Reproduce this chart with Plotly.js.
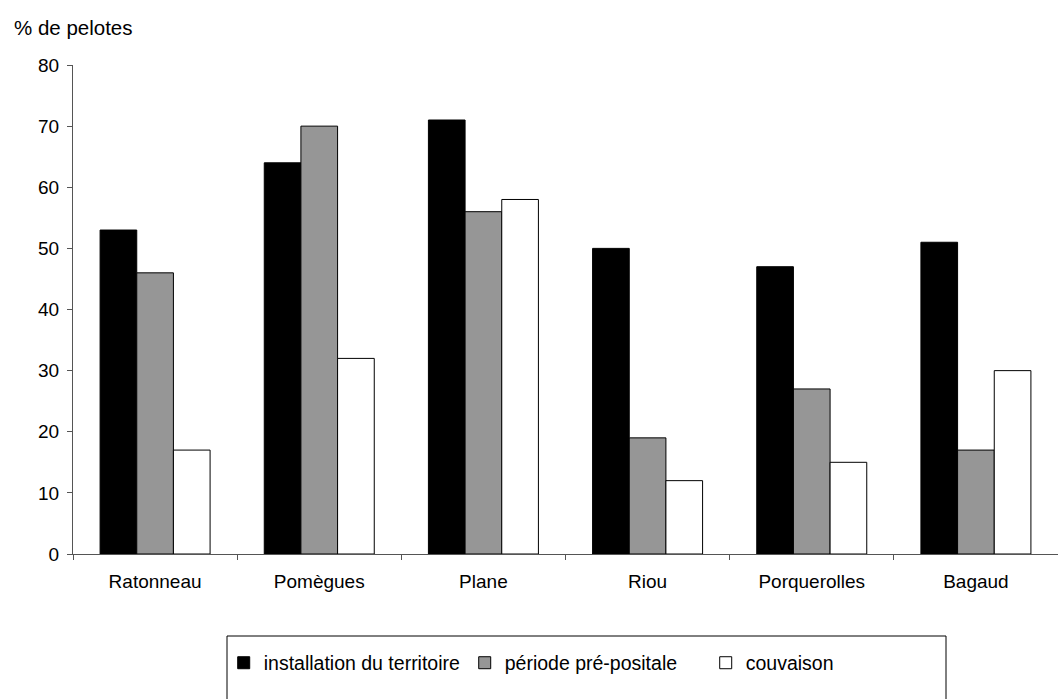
<!DOCTYPE html>
<html>
<head>
<meta charset="utf-8">
<script src="https://cdn.plot.ly/plotly-3.0.1.min.js"></script>
<style>html,body{margin:0;padding:0;background:#fff;}#chart{width:1058px;height:699px;}</style>
</head>
<body>
<div id="chart"></div>
<script>
const categories = ["Ratonneau", "Pomègues", "Plane", "Riou", "Porquerolles", "Bagaud"];
const seriesNames = ["installation du territoire", "période pré-positale", "couvaison"];
const installation = [53, 64, 71, 50, 47, 51];
const prePositale = [46, 70, 56, 19, 27, 17];
const couvaison = [17, 32, 58, 12, 15, 30];
const yTitle = "% de pelotes";
const yTickValues = [0, 10, 20, 30, 40, 50, 60, 70, 80];

const fills = ["#000000", "#969696", "#ffffff"];
const values = [installation, prePositale, couvaison];

const traces = values.map((v, i) => ({
  type: "bar",
  name: seriesNames[i],
  x: categories,
  y: v,
  marker: {color: fills[i], line: {color: "#000000", width: 1}},
  hoverinfo: "x+y+name"
}));

const layout = {
  width: 1058,
  height: 699,
  paper_bgcolor: "#ffffff",
  plot_bgcolor: "#ffffff",
  font: {family: "Liberation Sans, Arial, sans-serif", color: "#000000", size: 18},
  margin: {l: 73, r: 0, t: 65, b: 145, autoexpand: false},
  barmode: "group",
  bargap: 0.33,
  bargroupgap: 0,
  showlegend: true,
  legend: {
    orientation: "h",
    x: 0.153, xanchor: "left",
    y: -0.223, yanchor: "middle",
    font: {size: 19.5},
    entrywidth: 196,
    entrywidthmode: "pixels",
    bgcolor: "rgba(0,0,0,0)",
    borderwidth: 0,
    traceorder: "normal"
  },
  xaxis: {
    type: "category",
    tickson: "boundaries",
    ticks: "outside",
    ticklen: 5,
    tickcolor: "#555555",
    showline: true,
    linecolor: "#555555",
    linewidth: 1,
    showgrid: false,
    zeroline: false,
    ticklabelstandoff: 10,
    tickfont: {size: 19}
  },
  yaxis: {
    range: [0, 80],
    tickvals: yTickValues,
    ticks: "outside",
    ticklen: 5,
    tickcolor: "#555555",
    showline: true,
    linecolor: "#555555",
    linewidth: 1,
    showgrid: false,
    zeroline: false,
    tickfont: {size: 19},
    ticklabelstandoff: 4
  },
  shapes: [{
    type: "rect", xref: "paper", yref: "paper",
    x0: (227 - 73) / 985, x1: (946 - 73) / 985,
    y0: -0.4, y1: (554 - 636) / 489,
    line: {color: "#000000", width: 1},
    fillcolor: "rgba(0,0,0,0)"
  }],
  annotations: [{
    text: yTitle, xref: "paper", yref: "paper",
    x: (12 - 73) / 985, xanchor: "left",
    y: (554 - 27) / 489, yanchor: "middle",
    showarrow: false, font: {size: 20.5}
  }]
};

Plotly.newPlot("chart", traces, layout, {displayModeBar: false, staticPlot: true});
</script>
</body>
</html>
